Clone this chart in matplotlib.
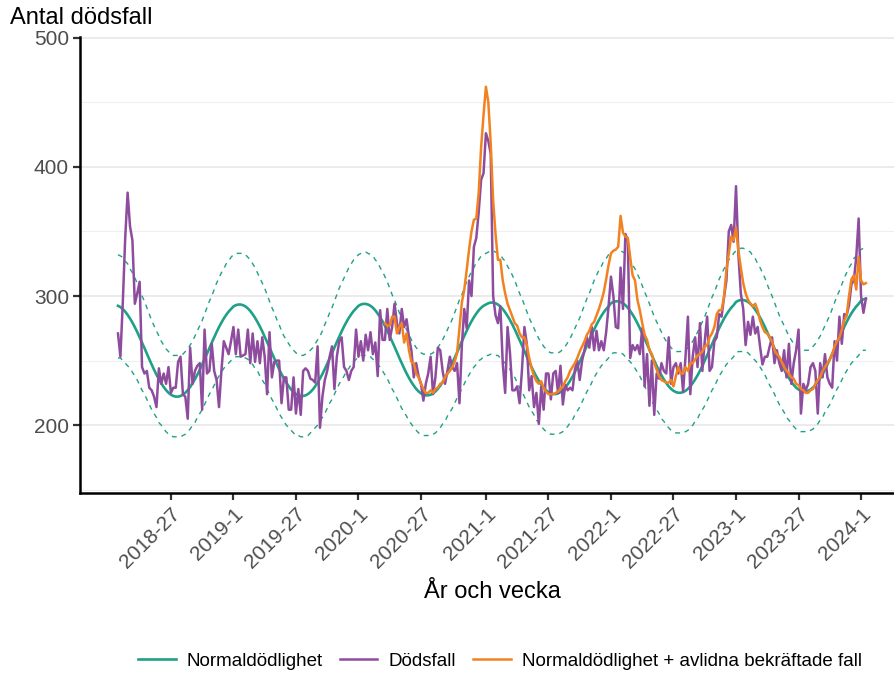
import numpy as np
import matplotlib
matplotlib.use("Agg")
import matplotlib.pyplot as plt

plt.rcParams['font.family'] = ['Liberation Sans', 'DejaVu Sans']

# first week in the series and number of weeks per year
start_year, start_week = 2018, 5
weeks_in_year = {2018: 52, 2019: 52, 2020: 53, 2021: 52, 2022: 52, 2023: 52, 2024: 52}

# weekly deaths (Dödsfall), 2018-5 .. 2024-3
deaths = [
    271, 253, 295, 345, 380, 354, 343, 294, 302, 311, 245, 240, 242, 229, 227, 222, 214, 244, 232, 240, 232, 245, 225, 229, 229, 249,
    253, 224, 222, 205, 260, 232, 242, 246, 248, 212, 274, 240, 242, 263, 242, 235, 214, 242, 265, 260, 255, 265, 276, 255, 274, 253,
    254, 255, 274, 248, 271, 249, 265, 248, 268, 253, 224, 272, 237, 249, 250, 250, 217, 237, 237, 212, 212, 237, 209, 228, 208, 242,
    244, 242, 236, 235, 233, 261, 198, 222, 235, 242, 253, 261, 228, 253, 265, 268, 245, 242, 235, 242, 245, 274, 253, 265, 250, 270,
    258, 272, 255, 264, 238, 289, 266, 266, 290, 266, 276, 294, 279, 271, 290, 276, 282, 268, 258, 237, 248, 238, 232, 219, 232, 240,
    253, 224, 237, 260, 258, 242, 232, 242, 253, 245, 242, 248, 217, 262, 290, 275, 312, 300, 338, 345, 365, 390, 395, 426, 420, 410,
    300, 285, 279, 292, 248, 225, 276, 256, 227, 227, 230, 217, 243, 276, 263, 227, 238, 214, 225, 201, 230, 212, 240, 240, 220, 240,
    242, 225, 246, 216, 231, 227, 229, 227, 243, 250, 235, 250, 258, 268, 260, 276, 258, 273, 258, 265, 258, 272, 292, 315, 300, 276,
    275, 322, 290, 348, 343, 252, 262, 258, 262, 255, 275, 230, 255, 215, 250, 208, 240, 236, 248, 242, 240, 268, 232, 245, 248, 240,
    248, 226, 253, 284, 224, 253, 268, 245, 279, 242, 265, 284, 242, 245, 265, 268, 286, 284, 299, 312, 350, 355, 342, 385, 332, 302,
    290, 262, 280, 270, 284, 271, 276, 261, 247, 253, 253, 261, 268, 248, 258, 248, 242, 258, 237, 263, 232, 248, 258, 274, 209, 232,
    227, 232, 245, 248, 242, 209, 248, 237, 255, 237, 232, 229, 265, 250, 284, 263, 286, 285, 293, 309, 312, 330, 360, 300, 287, 298,
]

# expected deaths (Normaldödlighet)
normal = [
    292.4, 291.4, 289.9, 287.9, 285.4, 282.6, 279.4, 275.9, 272.1, 268.0, 263.9, 259.7, 255.3, 251.1, 247.0, 242.9, 239.1, 235.6,
    232.4, 229.6, 227.1, 225.1, 223.6, 222.6, 222.1, 222.1, 222.6, 223.6, 225.1, 227.1, 229.6, 232.4, 235.6, 239.1, 242.9, 247.0,
    251.1, 255.3, 259.7, 263.9, 268.0, 272.1, 275.9, 279.4, 282.6, 285.4, 287.9, 289.9,
    291.9, 292.9, 293.4, 293.4, 292.9, 291.9, 290.4, 288.4, 285.9, 283.1, 279.9, 276.4, 272.6, 268.5, 264.4, 260.2, 255.8, 251.6,
    247.5, 243.4, 239.6, 236.1, 232.9, 230.1, 227.6, 225.6, 224.1, 223.1, 222.6, 222.6, 223.1, 224.1, 225.6, 227.6, 230.1, 232.9,
    236.1, 239.6, 243.4, 247.5, 251.6, 255.8, 260.2, 264.4, 268.5, 272.6, 276.4, 279.9, 283.1, 285.9, 288.4, 290.4,
    292.4, 293.4, 293.9, 293.9, 293.4, 292.4, 290.9, 288.9, 286.4, 283.6, 280.4, 276.9, 273.1, 269.0, 264.9, 260.7, 256.3, 252.1,
    248.0, 243.9, 240.1, 236.6, 233.4, 230.6, 228.1, 226.1, 224.6, 223.6, 223.1, 223.1, 223.6, 224.6, 226.1, 228.1, 230.6, 233.4,
    236.6, 240.1, 243.9, 248.0, 252.1, 256.3, 260.7, 264.9, 269.0, 273.1, 276.9, 280.4, 283.6, 286.4, 288.9, 290.9, 292.4,
    293.4, 294.4, 294.9, 294.9, 294.4, 293.4, 291.9, 289.9, 287.4, 284.6, 281.4, 277.9, 274.1, 270.0, 265.9, 261.7, 257.3, 253.1,
    249.0, 244.9, 241.1, 237.6, 234.4, 231.6, 229.1, 227.1, 225.6, 224.6, 224.1, 224.1, 224.6, 225.6, 227.1, 229.1, 231.6, 234.4,
    237.6, 241.1, 244.9, 249.0, 253.1, 257.3, 261.7, 265.9, 270.0, 274.1, 277.9, 281.4, 284.6, 287.4, 289.9, 291.9,
    294.4, 295.4, 295.9, 295.9, 295.4, 294.4, 292.9, 290.9, 288.4, 285.6, 282.4, 278.9, 275.1, 271.0, 266.9, 262.7, 258.3, 254.1,
    250.0, 245.9, 242.1, 238.6, 235.4, 232.6, 230.1, 228.1, 226.6, 225.6, 225.1, 225.1, 225.6, 226.6, 228.1, 230.1, 232.6, 235.4,
    238.6, 242.1, 245.9, 250.0, 254.1, 258.3, 262.7, 266.9, 271.0, 275.1, 278.9, 282.4, 285.6, 288.4, 290.9, 292.9,
    295.4, 296.4, 296.9, 296.9, 296.4, 295.4, 293.9, 291.9, 289.4, 286.6, 283.4, 279.9, 276.1, 272.0, 267.9, 263.7, 259.3, 255.1,
    251.0, 246.9, 243.1, 239.6, 236.4, 233.6, 231.1, 229.1, 227.6, 226.6, 226.1, 226.1, 226.6, 227.6, 229.1, 231.1, 233.6, 236.4,
    239.6, 243.1, 246.9, 251.0, 255.1, 259.3, 263.7, 267.9, 272.0, 276.1, 279.9, 283.4, 286.6, 289.4, 291.9, 293.9,
    296.4, 297.4, 297.9,
]

# upper and lower limits of the normal range (dashed)
upper = [
    332, 331, 330, 327, 325, 321, 318, 314, 310, 305, 300, 296, 291, 286, 281, 277, 273, 269, 265, 262, 259, 257, 255, 254,
    254, 254, 254, 255, 257, 259, 262, 265, 269, 273, 277, 281, 286, 291, 296, 300, 305, 310, 314, 318, 321, 325, 327, 330,
    332, 333, 333, 333, 333, 332, 330, 328, 325, 322, 318, 314, 310, 306, 301, 296, 291, 287, 282, 278, 273, 269, 266, 263, 260, 258,
    256, 255, 254, 254, 255, 256, 258, 260, 263, 266, 269, 273, 278, 282, 287, 291, 296, 301, 306, 310, 314, 318, 322, 325, 328, 330,
    332, 333, 334, 334, 333, 332, 331, 328, 326, 322, 319, 315, 311, 306, 301, 297, 292, 287, 282, 278, 274, 270, 266, 263, 260, 258,
    256, 255, 255, 255, 255, 256, 258, 260, 263, 266, 270, 274, 278, 282, 287, 292, 297, 301, 306, 311, 315, 319, 322, 326, 328, 331, 332,
    333, 334, 335, 335, 334, 333, 332, 329, 327, 323, 320, 316, 312, 307, 302, 298, 293, 288, 283, 279, 275, 271, 267, 264, 261, 259,
    257, 256, 256, 256, 256, 257, 259, 261, 264, 267, 271, 275, 279, 283, 288, 293, 298, 302, 307, 312, 316, 320, 323, 327, 329, 332,
    334, 335, 336, 336, 335, 334, 333, 330, 328, 324, 321, 317, 313, 308, 303, 299, 294, 289, 284, 280, 276, 272, 268, 265, 262, 260,
    258, 257, 257, 257, 257, 258, 260, 262, 265, 268, 272, 276, 280, 284, 289, 294, 299, 303, 308, 313, 317, 321, 324, 328, 330, 333,
    335, 336, 337, 337, 336, 335, 334, 331, 329, 325, 322, 318, 314, 309, 304, 300, 295, 290, 285, 281, 277, 273, 269, 266, 263, 261,
    259, 258, 258, 258, 258, 259, 261, 263, 266, 269, 273, 277, 281, 285, 290, 295, 300, 304, 309, 314, 318, 322, 325, 329, 331, 334,
    336, 337, 338,
]
lower = [
    252, 252, 250, 248, 246, 244, 241, 238, 235, 231, 227, 224, 220, 216, 212, 209, 206, 202, 200, 197, 195, 193, 192, 191,
    191, 191, 191, 192, 193, 195, 197, 200, 202, 206, 209, 212, 216, 220, 224, 227, 231, 235, 238, 241, 244, 246, 248, 250,
    252, 253, 253, 253, 253, 252, 251, 249, 247, 244, 242, 238, 235, 232, 228, 224, 220, 217, 213, 209, 206, 203, 200, 198, 196, 194,
    192, 192, 191, 191, 192, 192, 194, 196, 198, 200, 203, 206, 209, 213, 217, 220, 224, 228, 232, 235, 238, 242, 244, 247, 249, 251,
    253, 254, 254, 254, 254, 253, 251, 250, 247, 245, 242, 239, 236, 232, 228, 225, 221, 217, 213, 210, 207, 203, 201, 198, 196, 194,
    193, 192, 192, 192, 192, 193, 194, 196, 198, 201, 203, 207, 210, 213, 217, 221, 225, 228, 232, 236, 239, 242, 245, 247, 250, 251, 253,
    254, 254, 255, 255, 254, 254, 252, 250, 248, 246, 243, 240, 237, 233, 229, 226, 222, 218, 214, 211, 208, 204, 202, 199, 197, 195,
    194, 193, 193, 193, 193, 194, 195, 197, 199, 202, 204, 208, 211, 214, 218, 222, 226, 229, 233, 237, 240, 243, 246, 248, 250, 252,
    255, 256, 256, 256, 256, 255, 253, 251, 249, 247, 244, 241, 238, 234, 230, 227, 223, 219, 215, 212, 209, 205, 203, 200, 198, 196,
    195, 194, 194, 194, 194, 195, 196, 198, 200, 203, 205, 209, 212, 215, 219, 223, 227, 230, 234, 238, 241, 244, 247, 249, 251, 253,
    256, 257, 257, 257, 257, 256, 254, 252, 250, 248, 245, 242, 239, 235, 231, 228, 224, 220, 216, 213, 210, 206, 204, 201, 199, 197,
    196, 195, 195, 195, 195, 196, 197, 199, 201, 204, 206, 210, 213, 216, 220, 224, 228, 231, 235, 239, 242, 245, 248, 250, 252, 254,
    257, 258, 258,
]

# normal mortality + confirmed covid deaths, starts 2020-12
covid_start = 111
normal_plus_covid = [
    279, 277, 277, 284, 284, 271, 276, 279, 264, 271, 258, 249, 248, 240, 237, 232, 228, 225, 225, 227, 225, 228, 229, 232, 233, 237,
    240, 242, 245, 249, 256, 275, 295, 305, 320, 336, 350, 359, 360, 380, 415, 440, 462, 450, 418, 374, 348, 328, 328, 312, 302, 294,
    289, 284, 279, 277, 271, 268, 268, 262, 252, 244, 238, 234, 232, 234, 229, 226, 224, 224, 224, 225, 226, 228, 230, 234, 237, 242,
    245, 248, 252, 257, 261, 265, 270, 273, 278, 280, 285, 290, 296, 303, 313, 324, 333, 335, 336, 338, 362, 349, 346, 345, 330, 316,
    312, 297, 289, 279, 270, 266, 258, 255, 248, 243, 238, 235, 234, 233, 233, 235, 230, 238, 245, 240, 240, 245, 242, 248, 248, 251,
    254, 255, 257, 261, 262, 268, 271, 276, 286, 289, 289, 299, 320, 333, 346, 343, 353, 335, 322, 310, 302, 297, 294, 292, 294, 289,
    281, 276, 272, 271, 268, 265, 258, 255, 253, 249, 245, 242, 240, 237, 236, 232, 231, 228, 227, 225, 225, 227, 228, 232, 235, 237,
    242, 245, 248, 251, 255, 261, 265, 268, 274, 281, 285, 300, 313, 316, 305, 330, 312, 309, 310,
]

# week labels "YYYY-W"
labels = []
y, w = start_year, start_week
for _ in range(len(deaths)):
    labels.append(f"{y}-{w}")
    w += 1
    if w > weeks_in_year[y]:
        y, w = y + 1, 1

x = np.arange(len(deaths))
x_cov = np.arange(covid_start, covid_start + len(normal_plus_covid))

green = "#1fa187"
purple = "#8e4c9e"
orange = "#f28220"

fig = plt.figure(figsize=(8.94, 6.74), dpi=100)
W, H = 894, 674
ax = fig.add_axes([80 / W, (H - 493) / H, (W - 80) / W, (493 - 37) / H])

ax.plot(x[:len(upper)], upper, color=green, lw=1.0, ls=(0, (3.5, 3.5)))
ax.plot(x[:len(lower)], lower, color=green, lw=1.0, ls=(0, (3.5, 3.5)))
l1, = ax.plot(x[:len(normal)], normal, color=green, lw=1.9, label="Normaldödlighet")
l2, = ax.plot(x, deaths, color=purple, lw=1.8, label="Dödsfall")
l3, = ax.plot(x_cov, normal_plus_covid, color=orange, lw=1.8,
              label="Normaldödlighet + avlidna bekräftade fall")

ax.set_xlim(-15.8, 322.7)
ax.set_ylim(147.5, 500.5)

# gridlines (only horizontal, major and minor)
ax.set_yticks([200, 300, 400, 500])
ax.set_yticks([150, 250, 350, 450], minor=True)
ax.yaxis.grid(True, which='major', color='#e8e8e8', lw=1.2)
ax.yaxis.grid(True, which='minor', color='#efefef', lw=0.8)
ax.set_axisbelow(True)
ax.tick_params(axis='y', which='minor', length=0)

tick_idx = [i for i, lab in enumerate(labels) if lab.endswith("-1") or lab.endswith("-27")]
ax.set_xticks(tick_idx)
ax.set_xticklabels([labels[i] for i in tick_idx], rotation=45, ha='right', va='top',
                   rotation_mode='anchor')

for s in ['top', 'right']:
    ax.spines[s].set_visible(False)
for s in ['left', 'bottom']:
    ax.spines[s].set_linewidth(1.8)
    ax.spines[s].set_color('black')
ax.tick_params(axis='both', which='major', length=5, width=1.6, color='#333333',
               labelsize=15, labelcolor='#4d4d4d', pad=3)

fig.text(10 / W, 1 - 18 / H, "Antal dödsfall", ha='left', va='center', fontsize=17)
fig.text(492 / W, 1 - 592 / H, "År och vecka", ha='center', va='center', fontsize=17)

fig.legend(handles=[l1, l2, l3], loc='center', bbox_to_anchor=(500 / W, 1 - 661 / H),
           ncol=3, frameon=False, fontsize=13.5, handlelength=2.0, columnspacing=0.9,
           handletextpad=0.6)

fig.savefig("out.png", dpi=100)
